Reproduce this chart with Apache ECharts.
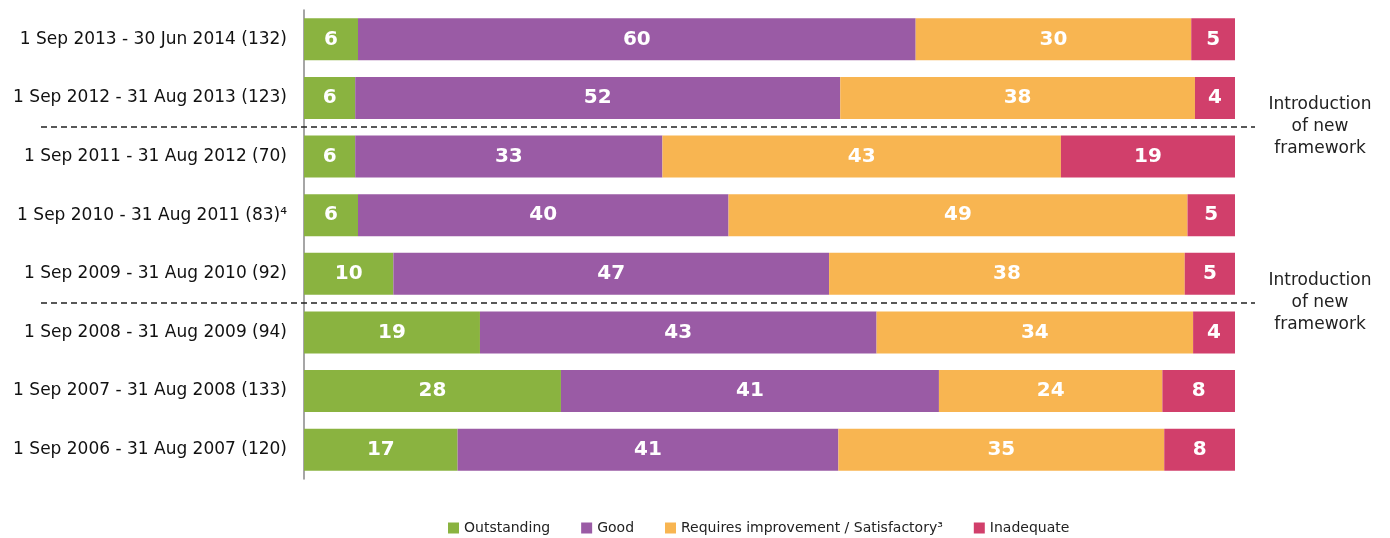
<!DOCTYPE html>
<html>
<head>
<meta charset="utf-8">
<script src="https://cdn.jsdelivr.net/npm/echarts@6/dist/echarts.min.js"></script>
<style>
  html, body { margin: 0; padding: 0; background: #fff; }
</style>
</head>
<body>
<div id="chart" style="width:1390px;height:538px;"></div>
<script>
const categories = [
  '1 Sep 2013 - 30 Jun 2014 (132)',
  '1 Sep 2012 - 31 Aug 2013 (123)',
  '1 Sep 2011 - 31 Aug 2012 (70)',
  '1 Sep 2010 - 31 Aug 2011 (83)\u2074',
  '1 Sep 2009 - 31 Aug 2010 (92)',
  '1 Sep 2008 - 31 Aug 2009 (94)',
  '1 Sep 2007 - 31 Aug 2008 (133)',
  '1 Sep 2006 - 31 Aug 2007 (120)'
]
// bar widths (unrounded %)
const outstanding = [5.8, 5.5, 5.5, 5.8, 9.6, 18.9, 27.6, 16.5]
const good = [59.9, 52.1, 33.0, 39.8, 46.8, 42.6, 40.6, 40.9]
const requiresImprovement = [29.6, 38.1, 42.8, 49.3, 38.2, 34.0, 24.0, 35.0]
const inadequate = [4.7, 4.3, 18.7, 5.1, 5.4, 4.5, 7.8, 7.6]
// published (rounded) figures shown on the bars
const outstandingLabels = [6, 6, 6, 6, 10, 19, 28, 17]
const goodLabels = [60, 52, 33, 40, 47, 43, 41, 41]
const requiresImprovementLabels = [30, 38, 43, 49, 38, 34, 24, 35]
const inadequateLabels = [5, 4, 19, 5, 5, 4, 8, 8]
// rows after which a new framework was introduced
const frameworkBreaks = [1, 4]
const breakText = 'Introduction\nof new\nframework'

const Colors = ['#8AB340', '#9A5BA5', '#F8B551', '#D13F6B']
const FONT = '"DejaVu Sans", Verdana, sans-serif'

const seriesDef = [
  { name: 'Outstanding', data: outstanding, labels: outstandingLabels },
  { name: 'Good', data: good, labels: goodLabels },
  { name: 'Requires improvement / Satisfactory\u00b3', data: requiresImprovement, labels: requiresImprovementLabels },
  { name: 'Inadequate', data: inadequate, labels: inadequateLabels }
]

var myChart = echarts.init(document.getElementById('chart'), null, { renderer: 'canvas' })

var option = {
  animation: false,
  grid: { left: 304, right: 155, top: 10, bottom: 59 },
  legend: {
    left: 443,
    top: 516,
    itemWidth: 11,
    itemHeight: 11,
    itemGap: 31,
    icon: 'rect',
    textStyle: { fontFamily: FONT, fontSize: 14, color: '#222' },
    data: seriesDef.map(s => s.name)
  },
  xAxis: {
    type: 'value',
    min: 0,
    max: 100,
    show: false
  },
  yAxis: {
    type: 'category',
    inverse: true,
    data: categories,
    axisTick: { show: false },
    axisLine: { show: true, lineStyle: { color: '#888', width: 1.5 } },
    axisLabel: {
      margin: 17,
      color: '#111',
      fontFamily: FONT,
      fontSize: 17
    }
  },
  series: seriesDef.map((s, i) => ({
    name: s.name,
    type: 'bar',
    stack: 'all',
    barWidth: 42,
    data: s.data,
    itemStyle: { color: Colors[i] },
    label: {
      show: true,
      position: 'inside',
      color: '#fff',
      fontFamily: FONT,
      fontWeight: 'bold',
      fontSize: 20,
      formatter: p => String(s.labels[p.dataIndex])
    }
  }))
}

myChart.setOption(option)

// dashed separators and notes, positioned through the axis scale
var graphics = []
frameworkBreaks.forEach(function (idx) {
  var y1 = myChart.convertToPixel({ yAxisIndex: 0 }, categories[idx])
  var y2 = myChart.convertToPixel({ yAxisIndex: 0 }, categories[idx + 1])
  var y = Math.round((y1 + y2) / 2)
  graphics.push({
    type: 'line',
    shape: { x1: 41, y1: y, x2: 1255, y2: y },
    style: { stroke: '#222', lineWidth: 1.5, lineDash: [6, 4] },
    z: 10
  })
  graphics.push({
    type: 'text',
    x: 1320,
    y: y,
    style: {
      text: breakText,
      fontFamily: FONT,
      fontSize: 17,
      lineHeight: 22,
      fill: '#222',
      align: 'center',
      verticalAlign: 'middle'
    },
    z: 10
  })
})
myChart.setOption({ graphic: graphics })
</script>
</body>
</html>
